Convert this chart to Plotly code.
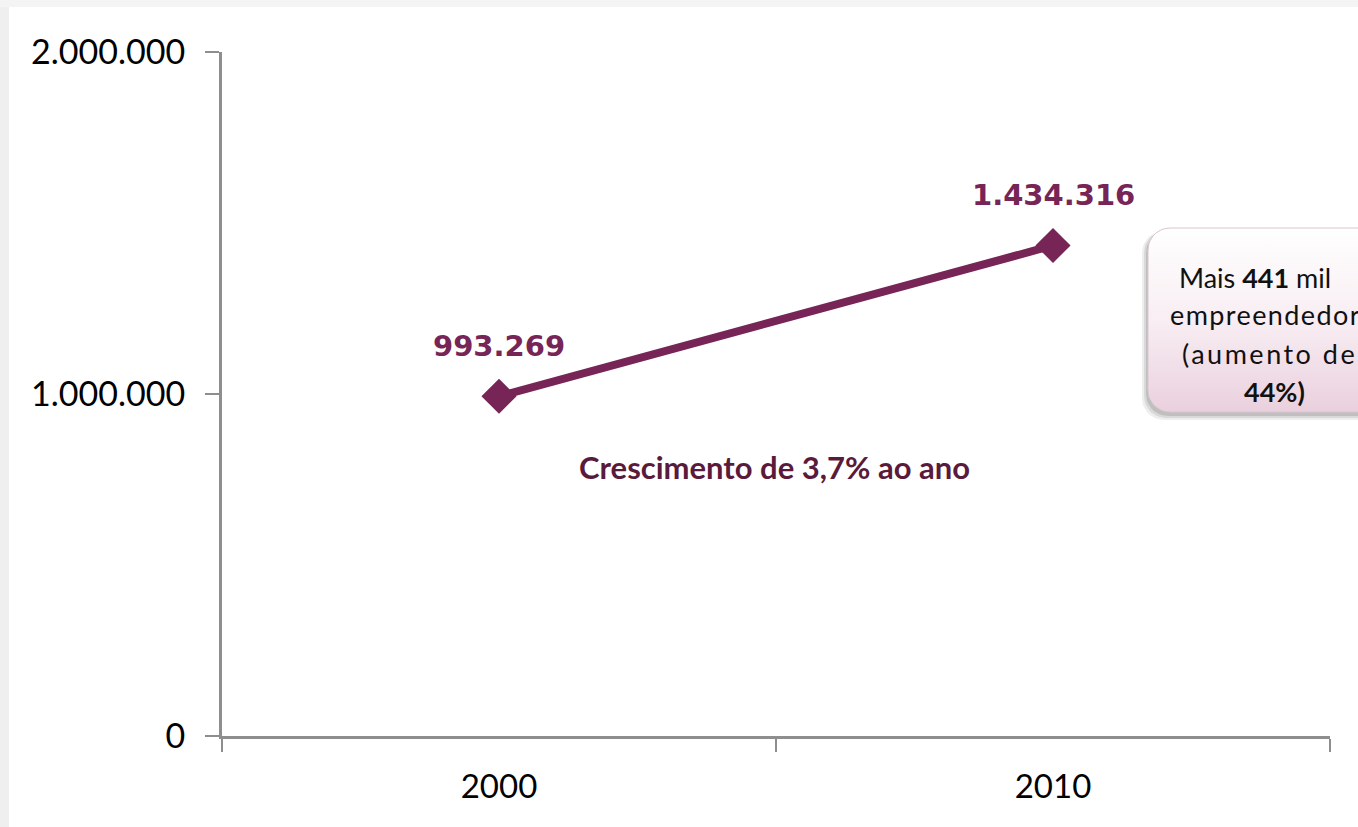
import numpy as np
import plotly.graph_objects as go

# ---- data ----
years = ["2000", "2010"]
values = [993269, 1434316]
value_labels = ["993.269", "1.434.316"]
y_tickvals = [0, 1000000, 2000000]
y_ticktext = ["0", "1.000.000", "2.000.000"]
growth_note = "Crescimento de 3,7% ao ano"
box_lines = ["Mais <b>441</b> mil", "empreendedores", "(aumento de", "<b>44%)</b>"]

W, H = 1358, 827
PL, PR, PT, PB = 222, 1330, 52, 736  # plot area in pixels
LINE_COLOR = "#772456"

fig = go.Figure()

fig.add_trace(go.Scatter(
    x=years, y=values, mode="lines+markers",
    line=dict(color=LINE_COLOR, width=8),
    marker=dict(symbol="diamond", size=27, color=LINE_COLOR),
    hoverinfo="skip", showlegend=False,
    xaxis="x", yaxis="y",
))

# rounded box helper in pixel coords (overlay axes)
def rounded(x0, y0, x1, y1, r, n=12):
    xs, ys = [], []
    corners = [(x1 - r, y0 + r, -90, 0), (x1 - r, y1 - r, 0, 90),
               (x0 + r, y1 - r, 90, 180), (x0 + r, y0 + r, 180, 270)]
    for cx, cy, a0, a1 in corners:
        for a in np.linspace(np.radians(a0), np.radians(a1), n):
            xs.append(cx + r * np.cos(a))
            ys.append(cy + r * np.sin(a))
    xs.append(xs[0]); ys.append(ys[0])
    return xs, ys

bx0, by0, bx1, by1 = 1148, 228, 1400, 412
# shadow
for off, alpha in [(8, 0.10), (6, 0.14), (4, 0.20)]:
    sx, sy = rounded(bx0 - off + 2, by0 + 3, bx1, by1 + off, 22)
    fig.add_trace(go.Scatter(x=sx, y=sy, mode="lines", fill="toself",
                             fillcolor=f"rgba(90,90,90,{alpha})", line=dict(width=0),
                             hoverinfo="skip", showlegend=False, xaxis="x2", yaxis="y2"))
rx, ry = rounded(bx0, by0, bx1, by1, 22)
fig.add_trace(go.Scatter(
    x=rx, y=ry, mode="lines", fill="toself",
    fillgradient=dict(type="vertical", start=by0, stop=by1,
                      colorscale=[[0, "#ffffff"], [0.5, "#f8eef3"], [1, "#ead0de"]]),
    line=dict(width=1, color="#d9c6d0"),
    hoverinfo="skip", showlegend=False, xaxis="x2", yaxis="y2"))

annotations = []
for i, (v, lab) in enumerate(zip(values, value_labels)):
    annotations.append(dict(
        x=i, y=v, xref="x", yref="y", text=f"<b>{lab}</b>", showarrow=False,
        yshift=50, font=dict(family="DejaVu Sans", size=29, color=LINE_COLOR)))

annotations.append(dict(
    x=774 / W, y=1 - 467 / H, xref="paper", yref="paper", text=f"<b>{growth_note}</b>",
    showarrow=False, font=dict(family="Lato", size=31, color="#5a1a3b")))

box_pos = [(1255, 277, "center", 0), (1168, 315, "left", 1.4), (1180, 353, "left", 2.5),
           (1274, 391, "center", 0)]
for (px, py, anc, ls), txt in zip(box_pos, box_lines):
    if ls:
        txt = f'<span style="letter-spacing:{ls}px">{txt}</span>'
    annotations.append(dict(
        x=px / W, y=1 - py / H, xref="paper", yref="paper", text=txt, showarrow=False,
        xanchor=anc, yanchor="middle", font=dict(family="Lato", size=27, color="#111111")))

shapes = [
    dict(type="rect", xref="paper", yref="paper", x0=0, x1=9 / W, y0=0, y1=1,
         fillcolor="#efefef", line=dict(width=0), layer="below"),
    dict(type="rect", xref="paper", yref="paper", x0=0, x1=1, y0=1 - 7 / H, y1=1,
         fillcolor="#f4f4f4", line=dict(width=0), layer="below"),
]

axis_gray = "#8e8e8e"
fig.update_layout(
    width=W, height=H, margin=dict(l=0, r=0, t=0, b=0),
    paper_bgcolor="white", plot_bgcolor="rgba(0,0,0,0)",
    font=dict(family="Lato", color="black"),
    xaxis=dict(
        type="category", domain=[PL / W, PR / W], range=[-0.5, 1.5],
        showline=True, linecolor=axis_gray, linewidth=3,
        ticks="outside", tickson="boundaries", ticklen=13, tickwidth=2, tickcolor=axis_gray,
        showgrid=False, zeroline=False, automargin=False,
        tickfont=dict(family="Lato", size=33, color="black"), ticklabelstandoff=19,
        anchor="y",
    ),
    yaxis=dict(
        domain=[1 - PB / H, 1 - PT / H], range=[0, 2000000],
        tickvals=y_tickvals, ticktext=y_ticktext,
        showline=True, linecolor=axis_gray, linewidth=3,
        ticks="outside", ticklen=14, tickwidth=2, tickcolor=axis_gray,
        showgrid=False, zeroline=False, automargin=False,
        tickfont=dict(family="Lato", size=34, color="black"), ticklabelstandoff=13,
        anchor="x",
    ),
    xaxis2=dict(domain=[0, 1], range=[0, W], visible=False, fixedrange=True, anchor="y2"),
    yaxis2=dict(domain=[0, 1], range=[H, 0], visible=False, fixedrange=True, anchor="x2"),
    annotations=annotations, shapes=shapes,
)

fig.write_html("out.html", config={"displayModeBar": False},
               post_script="document.body.style.margin='0';document.body.style.overflow='hidden';")
